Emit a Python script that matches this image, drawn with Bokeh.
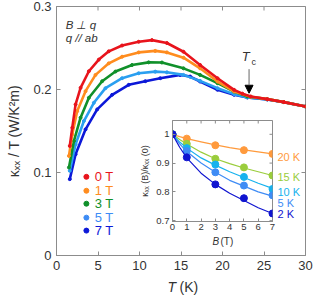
from bokeh.plotting import figure
from bokeh.models import Label, Arrow, NormalHead, FixedTicker
from bokeh.core.properties import value
from bokeh.embed import file_html
from bokeh.resources import INLINE
import math

# ---------------- data: main panel (kappa_xx/T vs T) ----------------
T_0T = [1.6, 1.9, 2.3, 2.9, 3.9, 5.1, 6.3, 7.9, 9.9, 11.5, 13.3, 15.3, 17.3, 19.4, 21.4, 22.4, 23.4, 25.4, 27.4, 30]
k_0T = [0.132, 0.154, 0.182, 0.202, 0.222, 0.236, 0.246, 0.253, 0.2575, 0.2595, 0.2560, 0.2455, 0.2296, 0.2136, 0.1996, 0.1950, 0.1916, 0.1884, 0.1848, 0.1796]
T_1T = [1.5, 1.9, 2.5, 3.5, 4.7, 6.3, 7.9, 9.9, 11.9, 13.3, 15.3, 17.3, 19.4, 21.4, 23.4, 25.4, 27.4, 30]
k_1T = [0.120, 0.146, 0.174, 0.198, 0.2176, 0.2315, 0.2395, 0.2447, 0.2465, 0.2447, 0.2383, 0.2255, 0.2096, 0.1976, 0.1912, 0.1884, 0.1848, 0.1796]
T_3T = [1.5, 2.1, 2.9, 3.9, 5.5, 7.1, 9.1, 11.1, 12.7, 15.3, 17.3, 19.4, 21.4, 23.0, 25.4, 27.4, 30]
k_3T = [0.106, 0.138, 0.166, 0.190, 0.210, 0.2216, 0.2295, 0.2327, 0.2325, 0.2255, 0.2176, 0.2076, 0.1976, 0.1916, 0.1884, 0.1848, 0.1796]
T_5T = [1.6, 2.3, 3.3, 4.5, 5.9, 7.9, 9.9, 11.9, 13.3, 15.3, 17.3, 19.4, 21.4, 23.0, 25.4, 27.4, 30]
k_5T = [0.102, 0.134, 0.162, 0.184, 0.2016, 0.2136, 0.2196, 0.2215, 0.2207, 0.2176, 0.2104, 0.2016, 0.1944, 0.1904, 0.1880, 0.1848, 0.1796]
T_7T = [1.6, 2.3, 3.5, 4.9, 6.7, 8.7, 10.7, 12.5, 14.9, 16.1, 17.3, 19.4, 21.4, 23.0, 25.4, 27.4, 30]
k_7T = [0.092, 0.122, 0.152, 0.176, 0.1936, 0.2056, 0.2100, 0.2136, 0.2176, 0.2156, 0.2096, 0.1996, 0.1936, 0.1904, 0.1880, 0.1848, 0.1796]

field_labels = ["0 T", "1 T", "3 T", "5 T", "7 T"]
main_colors = ["#e8141c", "#ff8c1e", "#10902a", "#2a9ff0", "#0c18d8"]
legend_colors = ["#e8141c", "#ff8c1e", "#10902a", "#3d8cf5", "#0c18d8"]

x_ticks = [0, 5, 10, 15, 20, 25, 30]
y_ticks = [0, 0.1, 0.2, 0.3]
y_tick_labels = ["0", "0.1", "0.2", "0.3"]

# ---------------- data: inset (kappa_xx(B)/kappa_xx(0) vs B) ----------------
B = [0, 1, 3, 5, 7]
r_20K = [1.0, 0.985, 0.962, 0.945, 0.932]
r_15K = [1.0, 0.967, 0.915, 0.885, 0.857]
r_10K = [1.0, 0.952, 0.895, 0.852, 0.810]
r_5K = [1.0, 0.942, 0.868, 0.822, 0.788]
r_2K = [1.0, 0.920, 0.826, 0.778, 0.725]

B_fit = [0, 0.5, 1, 2, 3, 4, 5, 6, 7]
f_20K = [1.0, 0.992, 0.985, 0.974, 0.963, 0.954, 0.946, 0.939, 0.932]
f_15K = [1.0, 0.982, 0.966, 0.938, 0.915, 0.898, 0.883, 0.870, 0.857]
f_10K = [1.0, 0.973, 0.952, 0.918, 0.893, 0.870, 0.850, 0.830, 0.812]
f_5K = [1.0, 0.967, 0.940, 0.900, 0.868, 0.840, 0.820, 0.800, 0.785]
f_2K = [1.0, 0.955, 0.918, 0.865, 0.826, 0.795, 0.770, 0.745, 0.725]

temp_labels = ["20 K", "15 K", "10 K", "5 K", "2 K"]
inset_colors = ["#ff9a3c", "#9acd3c", "#16b2ee", "#3f8cf5", "#1014d0"]
B_ticks = [0, 1, 2, 3, 4, 5, 6, 7]
r_ticks = [0.7, 0.8, 0.9, 1.0]
r_tick_labels = ["0.7", "0.8", "0.9", "1"]

FONT = "Liberation Sans"
AX = "#8c8c8c"
TXT = "#333333"


def style_axes(fig, size, tick_in):
    for ax in (fig.xaxis[0], fig.yaxis[0]):
        ax.axis_line_color = AX
        ax.major_tick_line_color = AX
        ax.minor_tick_line_color = None
        ax.major_tick_in = tick_in
        ax.major_tick_out = 0
        ax.major_label_text_font = FONT
        ax.major_label_text_font_size = size
        ax.major_label_text_color = TXT
        ax.axis_label_text_font = FONT
        ax.axis_label_text_color = TXT
        ax.axis_label_text_font_style = "normal"


def mirror_ticks(fig, xt, yt, xmax, ymax, size):
    # inward ticks on top/right edges: half of each dash is clipped by the frame
    fig.scatter(xt, [ymax] * len(xt), marker="dash", angle=math.pi / 2, size=size,
                line_color=AX, line_width=1)
    fig.scatter([xmax] * len(yt), yt, marker="dash", size=size, line_color=AX, line_width=1)


def text_box(left, top, w, h):
    # small transparent overlay (pixel coordinates, y downward) for text outside a frame
    f = figure(width=w, height=h, x_range=(0, w), y_range=(h, 0),
               output_backend="svg", toolbar_location=None, min_border=0,
               x_axis_location=None, y_axis_location=None,
               styles={"position": "absolute", "left": f"{left}px", "top": f"{top}px"})
    f.grid.visible = False
    f.outline_line_color = None
    f.background_fill_color = None
    f.border_fill_color = None
    return f


# ---------------- main figure ----------------
p = figure(width=313, height=297, x_range=(0, 30), y_range=(0, 0.3),
           output_backend="svg", toolbar_location=None,
           min_border_left=56, min_border_right=8, min_border_top=6, min_border_bottom=42)
p.grid.visible = False
p.outline_line_color = AX
p.border_fill_color = "white"
style_axes(p, "13px", 4)
p.xaxis[0].ticker = FixedTicker(ticks=x_ticks)
p.yaxis[0].ticker = FixedTicker(ticks=y_ticks)
p.yaxis[0].major_label_overrides = {t: l for t, l in zip(y_ticks, y_tick_labels)}
p.xaxis[0].major_label_standoff = 5
p.yaxis[0].major_label_standoff = 5
p.yaxis[0].axis_label = "κₓₓ / T (W/K²m)"
p.yaxis[0].axis_label_text_font_size = "14px"
p.yaxis[0].axis_label_standoff = 8
mirror_ticks(p, x_ticks, y_ticks, 30, 0.3, 8)

series = [(T_7T, k_7T, main_colors[4]), (T_5T, k_5T, main_colors[3]), (T_3T, k_3T, main_colors[2]),
          (T_1T, k_1T, main_colors[1]), (T_0T, k_0T, main_colors[0])]
for xs, ys, c in series:
    p.line(xs, ys, line_color=c, line_width=2.6)
    p.scatter(xs, ys, size=3, color=c)

# legend (coloured dots + coloured labels)
leg_y = [0.0948, 0.0780, 0.0624, 0.0456, 0.0300]
p.scatter([3.6] * 5, leg_y, size=5, color=legend_colors)
p.text([4.6] * 5, leg_y, text=field_labels, text_color=legend_colors,
       text_font=value(FONT), text_font_size="13px", text_baseline="middle", text_align="left")

# configuration text
p.text([1.1, 1.1], [0.2773, 0.2617], text=["B ⊥ q", "q // ab"], text_color=TXT,
       text_font=value(FONT), text_font_size="11.5px", text_font_style="italic",
       text_baseline="middle", text_align="left")

# Tc arrow
p.add_layout(Arrow(end=NormalHead(size=8, fill_color="black", line_color="black"),
                   x_start=23.2, y_start=0.2245, x_end=23.2, y_end=0.1955,
                   line_color="#666666", line_width=1))
p.add_layout(Label(x=22.8, y=0.2400, text="T", text_font=FONT, text_font_size="13px",
                   text_font_style="italic", text_color=TXT, text_align="center", text_baseline="middle"))
p.add_layout(Label(x=23.75, y=0.2330, text="c", text_font=FONT, text_font_size="9px",
                   text_color=TXT, text_align="center", text_baseline="middle"))

# ---------------- inset figure ----------------
ins = figure(width=172, height=131, x_range=(0, 7), y_range=(0.697, 1.048),
             output_backend="svg", toolbar_location=None,
             min_border_left=42, min_border_right=30, min_border_top=4, min_border_bottom=26,
             styles={"position": "absolute", "left": "130px", "top": "116px"})
ins.grid.visible = False
ins.outline_line_color = AX
ins.background_fill_color = "white"
ins.border_fill_color = None
style_axes(ins, "9.5px", 3)
ins.xaxis[0].ticker = FixedTicker(ticks=B_ticks)
ins.yaxis[0].ticker = FixedTicker(ticks=r_ticks)
ins.yaxis[0].major_label_overrides = {t: l for t, l in zip(r_ticks, r_tick_labels)}
ins.xaxis[0].major_label_standoff = 2
ins.yaxis[0].major_label_standoff = 3
ins.yaxis[0].axis_label = "κₓₓ (B)/κₓₓ (0)"
ins.yaxis[0].axis_label_text_font_size = "9px"
ins.yaxis[0].axis_label_standoff = 3
mirror_ticks(ins, B_ticks, r_ticks, 7, 1.048, 6)

inset_series = [(r_20K, f_20K), (r_15K, f_15K), (r_10K, f_10K), (r_5K, f_5K), (r_2K, f_2K)]
for (r, f), c in zip(inset_series, inset_colors):
    ins.line(B_fit, f, line_color=c, line_width=1.2)
    ins.scatter(B, r, size=7, color=c)

# inset temperature labels (right of the inset frame)
tl = text_box(276, 146, 30, 74)
tl.text([1] * 5, [10, 30, 45, 56, 67], text=temp_labels, text_color=inset_colors,
        text_font=value(FONT), text_font_size="11px", text_baseline="middle", text_align="left")

# inset x title "B (T)"
bl = text_box(205, 233, 40, 15)
bl.text([7], [7.5], text=["B"], text_color=TXT, text_font=value(FONT), text_font_size="10px",
        text_font_style="italic", text_baseline="middle", text_align="left")
bl.text([15], [7.5], text=["(T)"], text_color=TXT, text_font=value(FONT), text_font_size="10px",
        text_baseline="middle", text_align="left")

# ---------------- main x-axis title "T (K)" ----------------
xl = text_box(163, 277, 40, 18)
xl.text([4], [9], text=["T"], text_color=TXT, text_font=value(FONT), text_font_size="14px",
        text_font_style="italic", text_baseline="middle", text_align="left")
xl.text([16], [9], text=["(K)"], text_color=TXT, text_font=value(FONT), text_font_size="14px",
        text_baseline="middle", text_align="left")

open("out.html", "w").write(file_html([p, ins, tl, bl, xl], INLINE))
